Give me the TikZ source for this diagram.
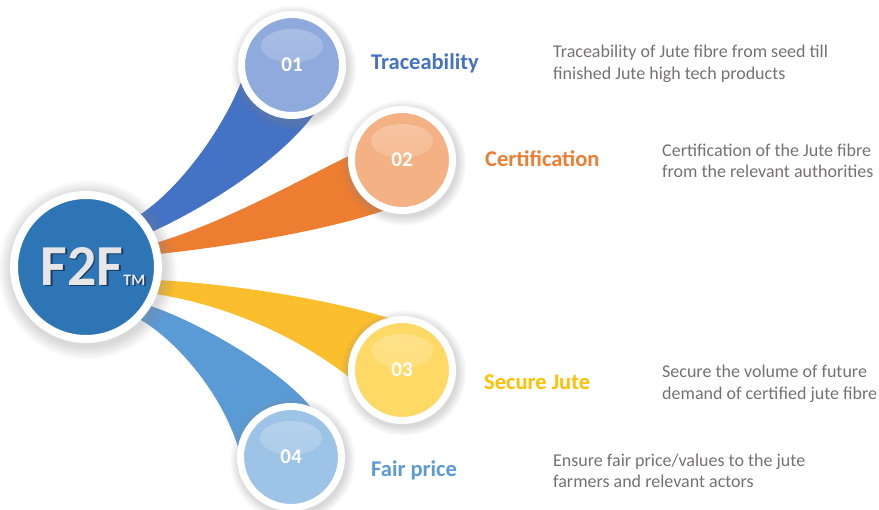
\documentclass[tikz,border=0pt]{standalone}
\usepackage{fontspec}
\setmainfont{Carlito}
\usetikzlibrary{shadows,backgrounds}

\definecolor{hubblue}{HTML}{2E75B6}
\definecolor{brandgrey}{HTML}{E7E6E6}
\definecolor{notegrey}{HTML}{767171}
\definecolor{traceblue}{HTML}{4472C4}
\definecolor{tracefill}{HTML}{8FAADC}
\definecolor{certorange}{HTML}{ED7D31}
\definecolor{certfill}{HTML}{F4B183}
\definecolor{secureyellow}{HTML}{FBBF2D}
\definecolor{securetext}{HTML}{FFC000}
\definecolor{securefill}{HTML}{FFD966}
\definecolor{fairblue}{HTML}{5B9BD5}
\definecolor{fairfill}{HTML}{9DC3E6}

\newcommand{\embossed}[1]{\makebox[0pt][l]{\hspace{1.6pt}\raisebox{-1.6pt}{\color{hubblue!50!black}#1}}#1}

\begin{document}
\begin{tikzpicture}[x=1pt,y=-1pt,
    ring/.style={circle, draw=white, line width=7pt, minimum size=101pt, inner sep=0pt,
        circular drop shadow={shadow xshift=1pt, shadow yshift=-2pt, shadow scale=1.25, opacity=.3},
        text=white, font=\fontsize{21}{21}\selectfont\bfseries},
    glossy/.style={ring, fill=#1,
        path picture={\shade[top color=white!28!#1, bottom color=#1]
            ([yshift=19pt]path picture bounding box.center) ellipse [x radius=31pt, y radius=17pt];}},
    title/.style={anchor=base west, inner sep=0pt, text=#1, font=\fontsize{22.5}{22.5}\selectfont\bfseries},
    note/.style={anchor=west, inner sep=0pt, align=left, text=notegrey, font=\fontsize{18}{21.5}\selectfont}]

   \useasboundingbox (0,0) rectangle (879,510);

   % hub and the four steps
   \node [ring, fill=hubblue, line width=8pt, minimum size=144pt] (hub) at (86,267) {};
   \node [text=brandgrey, font=\fontsize{58}{58}\selectfont\bfseries] (brand) at (93,267)
        {\embossed{F2F}{\fontsize{16}{16}\selectfont\embossed{TM}}};

   \node [glossy=tracefill]  (c1) at (292,65)  {01};
   \node [glossy=certfill]   (c2) at (402,160) {02};
   \node [glossy=securefill] (c3) at (402,370) {03};
   \node [glossy=fairfill]   (c4) at (291,457) {04};

   \node [title=traceblue]  (t1) at (371,70)  {Traceability};
   \node [title=certorange] (t2) at (485,167) {Certification};
   \node [title=securetext] (t3) at (484,390) {Secure Jute};
   \node [title=fairblue]   (t4) at (371,477) {Fair price};

   \node [note] (n1) at (553,64)  {Traceability of Jute fibre from seed till\\finished Jute high tech products};
   \node [note] (n2) at (662,161) {Certification of the Jute fibre\\from the relevant authorities};
   \node [note] (n3) at (662,384) {Secure the volume of future\\demand of certified jute fibre};
   \node [note] (n4) at (553,471) {Ensure fair price/values to the jute\\farmers and relevant actors};

   % ribbons behind the circles
   \begin{scope}[on background layer]
     \fill [traceblue] (hub.44) .. controls (180,188) and (222,130) .. (c1.199) -- (c1.center)
          -- (c1.294) .. controls (280,160) and (210,205) .. (hub.28) -- (hub.center) -- cycle;
     \fill [certorange] (hub.19) .. controls (225,222) and (300,180) .. (c2.176) -- (c2.center)
          -- (c2.250) .. controls (320,232) and (230,246) .. (hub.10) -- (hub.center) -- cycle;
     \fill [secureyellow] (hub.350) .. controls (240,285) and (330,300) .. (c3.105) -- (c3.center)
          -- (c3.187) .. controls (295,335) and (225,305) .. (hub.339) -- (hub.center) -- cycle;
     \fill [fairblue] (hub.329) .. controls (205,325) and (280,370) .. (c4.69) -- (c4.center)
          -- (c4.169) .. controls (220,390) and (175,340) .. (hub.316) -- (hub.center) -- cycle;
   \end{scope}

\end{tikzpicture}
\end{document}
